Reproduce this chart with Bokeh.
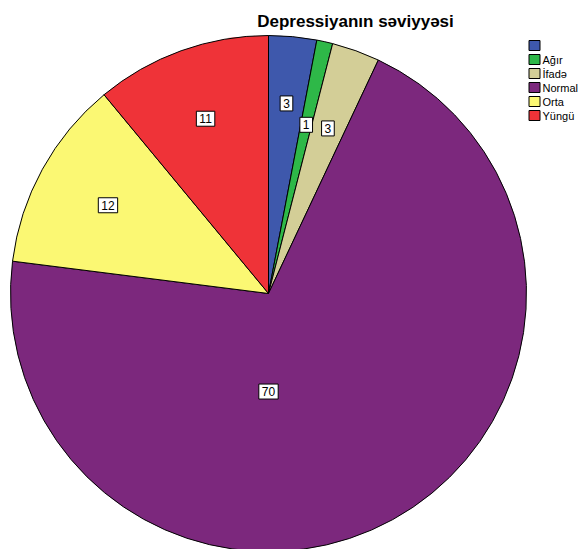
import math
from bokeh.plotting import figure
from bokeh.models import Range1d, ColumnDataSource
from bokeh.core.properties import value
from bokeh.embed import file_html
from bokeh.resources import INLINE

# Depression level categories and their counts
categories = ["", "Ağır", "İfadə", "Normal", "Orta", "Yüngü"]
counts = [3, 1, 3, 70, 12, 11]
colors = ["#3E58AC", "#2EB848", "#D3CE97", "#7C287D", "#FBF873", "#EF3338"]
title_text = "Depressiyanın səviyyəsi"

W, H = 580, 549
cx, cy, R = 268, H - 293, 258

total = float(sum(counts))
starts, ends, lx, ly = [], [], [], []
cum = 0.0
label_r = [0.74, 0.67, 0.68, 0.38, 0.71, 0.72]
largest = counts.index(max(counts))
for i, c in enumerate(counts):
    f0 = cum / total
    f1 = (cum + c) / total
    cum += c
    # angles measured counter-clockwise from +x, slices run clockwise from 12 o'clock
    starts.append(math.pi / 2 - 2 * math.pi * f0)
    ends.append(math.pi / 2 - 2 * math.pi * f1)
    mid = math.pi if i == largest else 2 * math.pi * (f0 + f1) / 2
    lx.append(cx + label_r[i] * R * math.sin(mid))
    ly.append(cy + label_r[i] * R * math.cos(mid))

src = ColumnDataSource(dict(start=starts, end=ends, color=colors,
                            lx=lx, ly=ly, txt=[str(c) for c in counts]))

p = figure(width=W, height=H, x_range=Range1d(0, W), y_range=Range1d(0, H),
           output_backend="svg", toolbar_location=None, min_border=0)
p.axis.visible = False
p.grid.visible = False
p.outline_line_color = None
p.background_fill_color = "white"
p.border_fill_color = "white"

p.wedge(x=cx, y=cy, radius=R, start_angle="start", end_angle="end",
        direction="clock", fill_color="color", line_color="black",
        line_width=1, source=src)

p.text(x="lx", y="ly", text="txt", source=src, text_align="center",
       text_baseline="middle", text_font=value("Liberation Sans"),
       text_font_size="12px", text_color="black",
       background_fill_color="white", border_line_color="black",
       border_line_width=1, padding=3)

# Title
p.text(x=[355], y=[H - 21], text=[title_text], text_align="center",
       text_baseline="middle", text_font=value("Liberation Sans"),
       text_font_size="17px", text_font_style="bold", text_color="black")

# Legend
leg_y = [H - (45 + 14 * i) for i in range(len(categories))]
p.rect(x=[534] * len(categories), y=leg_y, width=11, height=10,
       fill_color=colors, line_color="black", line_width=1)
p.text(x=[542] * len(categories), y=leg_y, text=categories,
       text_align="left", text_baseline="middle",
       text_font=value("Liberation Sans"), text_font_size="11px",
       text_color="black")

open("out.html", "w").write(file_html(p, INLINE))
